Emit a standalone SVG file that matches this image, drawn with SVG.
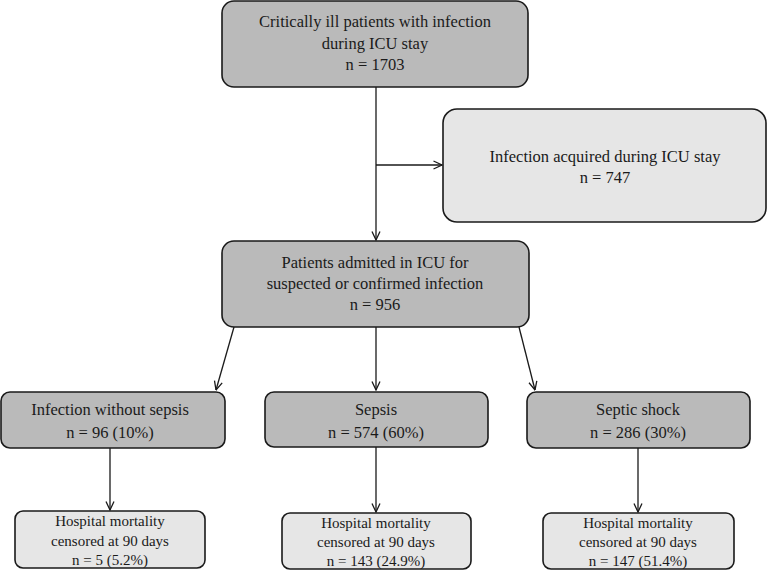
<svg xmlns="http://www.w3.org/2000/svg" width="769" height="571" viewBox="0 0 769 571">
<defs>
<style>
.dark{fill:#bababa;stroke:#1a1a1a;stroke-width:1.6}
.light{fill:#e6e6e6;stroke:#1a1a1a;stroke-width:1.6}
text{font-family:"Liberation Serif","DejaVu Serif",serif;font-size:16.5px;fill:#1a1a1a;text-anchor:middle}
text.s{font-size:15px}
.c line{stroke:#1a1a1a;stroke-width:1.3;fill:none;marker-end:url(#arr)}
</style>
<marker id="arr" viewBox="0 0 10 10" refX="9.5" refY="5" markerWidth="10" markerHeight="10" markerUnits="userSpaceOnUse" orient="auto">
<polyline points="1,1 9.5,5 1,9" fill="none" stroke="#1a1a1a" stroke-width="1.3"/>
</marker>
</defs>
<rect width="769" height="571" fill="#ffffff"/>
<g class="c" id="connectors">
<line x1="376" y1="87" x2="376" y2="240"/>
<line x1="376" y1="165" x2="442" y2="165"/>
<line x1="234" y1="327" x2="216" y2="390"/>
<line x1="376" y1="327" x2="376" y2="390"/>
<line x1="519" y1="327" x2="535" y2="390"/>
<line x1="110" y1="448" x2="110" y2="510"/>
<line x1="376" y1="447" x2="376" y2="512"/>
<line x1="638" y1="448" x2="638" y2="512"/>
</g>
<g id="n_total">
<rect class="dark" x="222" y="1" width="306" height="86" rx="12"/>
<text x="375" y="27">Critically ill patients with infection</text>
<text x="375" y="49">during ICU stay</text>
<text x="375" y="70">n = 1703</text>
</g>
<g id="n_acquired">
<rect class="light" x="443" y="109" width="323" height="113" rx="14"/>
<text x="605" y="162">Infection acquired during ICU stay</text>
<text x="605" y="183">n = 747</text>
</g>
<g id="n_admitted">
<rect class="dark" x="222" y="241" width="307" height="86" rx="12"/>
<text x="375" y="268">Patients admitted in ICU for</text>
<text x="375" y="289">suspected or confirmed infection</text>
<text x="375" y="310">n = 956</text>
</g>
<g id="n_nosepsis">
<rect class="dark" x="1" y="392" width="224" height="56" rx="9"/>
<text x="110" y="415">Infection without sepsis</text>
<text x="110" y="438">n = 96 (10%)</text>
</g>
<g id="n_sepsis">
<rect class="dark" x="265" y="392" width="223" height="55" rx="9"/>
<text x="376" y="415">Sepsis</text>
<text x="376" y="438">n = 574 (60%)</text>
</g>
<g id="n_shock">
<rect class="dark" x="527" y="392" width="223" height="56" rx="9"/>
<text x="638" y="415">Septic shock</text>
<text x="638" y="438">n = 286 (30%)</text>
</g>
<g id="n_mort1">
<rect class="light" x="15" y="511" width="190" height="57" rx="8"/>
<text class="s" x="110" y="526">Hospital mortality</text>
<text class="s" x="110" y="546">censored at 90 days</text>
<text class="s" x="110" y="565">n = 5 (5.2%)</text>
</g>
<g id="n_mort2">
<rect class="light" x="282" y="513" width="189" height="56" rx="8"/>
<text class="s" x="376" y="528">Hospital mortality</text>
<text class="s" x="376" y="547">censored at 90 days</text>
<text class="s" x="376" y="566">n = 143 (24.9%)</text>
</g>
<g id="n_mort3">
<rect class="light" x="543" y="513" width="191" height="56" rx="8"/>
<text class="s" x="638" y="528">Hospital mortality</text>
<text class="s" x="638" y="547">censored at 90 days</text>
<text class="s" x="638" y="566">n = 147 (51.4%)</text>
</g>
</svg>
